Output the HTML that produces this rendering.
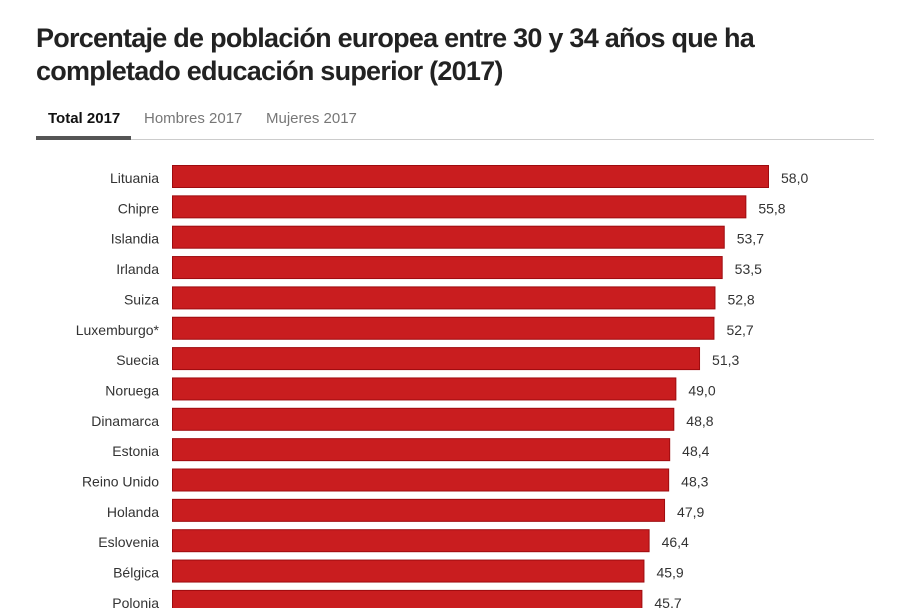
<!DOCTYPE html>
<html><head><meta charset="utf-8"><style>
body{margin:0;width:909px;height:608px;overflow:hidden;background:#fff;font-family:"Liberation Sans",sans-serif;}
h1{position:absolute;left:36px;top:22px;margin:0;font-size:27px;line-height:33px;font-weight:bold;color:#222;letter-spacing:-0.75px;width:840px}
.tab{position:absolute;top:110px;font-size:15px;color:#777}
</style></head><body>
<h1>Porcentaje de población europea entre 30 y 34 años que ha completado educación superior (2017)</h1>
<div class="tab" style="left:48px;color:#111;font-weight:bold">Total 2017</div>
<div class="tab" style="left:144px">Hombres 2017</div>
<div class="tab" style="left:266px">Mujeres 2017</div>
<div style="position:absolute;left:36px;top:139px;width:838px;height:1px;background:#ccc"></div>
<div style="position:absolute;left:36px;top:136px;width:95px;height:4px;background:#555"></div>
<svg id="chart" width="909" height="608" style="position:absolute;left:0;top:0"></svg>
<script>
const categories=["Lituania","Chipre","Islandia","Irlanda","Suiza","Luxemburgo*","Suecia","Noruega","Dinamarca","Estonia","Reino Unido","Holanda","Eslovenia","Bélgica","Polonia"];
const values=[58.0,55.8,53.7,53.5,52.8,52.7,51.3,49.0,48.8,48.4,48.3,47.9,46.4,45.9,45.7];
const svg=document.getElementById('chart');
const NS="http://www.w3.org/2000/svg";
const x0=172, pxPerUnit=597/58;
const xScale=v=>v*pxPerUnit;
const yScale=i=>165+i*30.35;
categories.forEach((c,i)=>{
  const y=yScale(i);
  const r=document.createElementNS(NS,'rect');
  r.setAttribute('x',x0+0.5);r.setAttribute('y',y+0.5);
  r.setAttribute('width',xScale(values[i])-1);r.setAttribute('height',22);
  r.setAttribute('fill','#c91d1f');r.setAttribute('stroke','#9e0b0f');
  
  
  svg.appendChild(r);
  const t=document.createElementNS(NS,'text');
  t.setAttribute('x',159);t.setAttribute('y',y+18);t.setAttribute('text-anchor','end');
  t.setAttribute('font-size','14');t.setAttribute('fill','#333');t.textContent=c;
  
  
  svg.appendChild(t);
  const v=document.createElementNS(NS,'text');
  v.setAttribute('x',x0+xScale(values[i])+12);v.setAttribute('y',y+18);
  v.setAttribute('font-size','14');v.setAttribute('fill','#333');
  v.textContent=values[i].toFixed(1).replace('.',',');
  
  
  svg.appendChild(v);
});
</script>
</body></html>
